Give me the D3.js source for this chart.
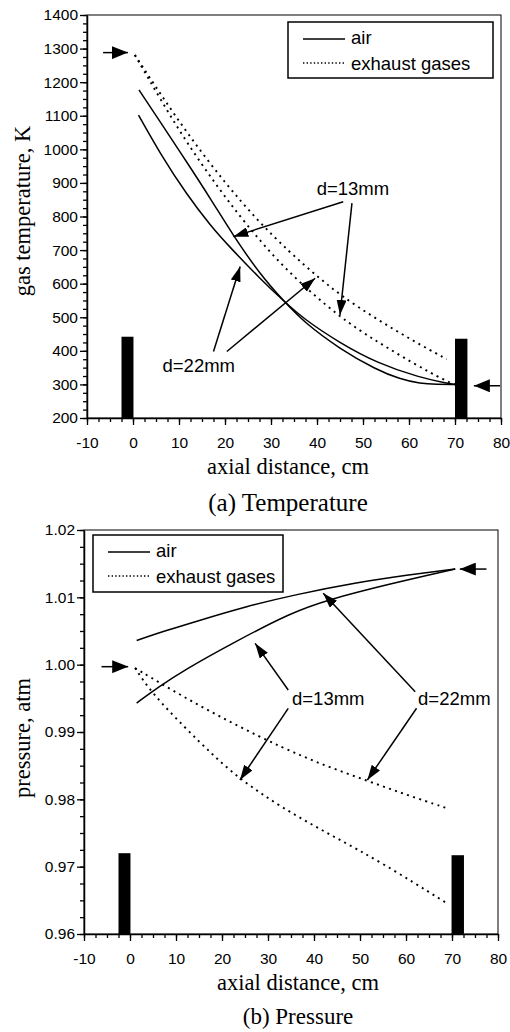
<!DOCTYPE html>
<html>
<head>
<meta charset="utf-8">
<script src="https://cdn.jsdelivr.net/npm/d3@7"></script>
<style>
  body { margin: 0; background: #fff; }
  .tick text { font-family: "Liberation Sans", Arial, sans-serif; font-size: 15.5px; fill: #000; }
  .sans { font-family: "Liberation Sans", Arial, sans-serif; font-size: 18.5px; }
  .serif { font-family: "Liberation Serif", "Times New Roman", serif; }
</style>
</head>
<body>
<svg id="fig" width="510" height="1032"></svg>
<script>
// axis ticks
const distTicks = [-10, 0, 10, 20, 30, 40, 50, 60, 70, 80];
const tempTicks = [200, 300, 400, 500, 600, 700, 800, 900, 1000, 1100, 1200, 1300, 1400];
const presTicks = [0.96, 0.97, 0.98, 0.99, 1.00, 1.01, 1.02];

// (a) temperature, K  vs axial distance, cm
const tempAir13 = [[1.3,1177],[6,1080],[11.7,962],[17,850],[21.7,745],[27.6,628],[32.8,548],[37,487],[45,405],[53,343],[58,316],[62.5,302],[66,300],[70,300]];
const tempAir22 = [[1.2,1102],[6,985],[11.7,865],[17,770],[21.1,708],[27.6,615],[32.8,548],[37,496],[45,423],[53,364],[62.4,320],[68.2,304],[70,300]];
const tempGas13 = [[0.4,1281],[6,1148],[11.3,1028],[18,895],[24.3,781],[33,642],[45,498],[53,428],[61,362],[68.2,309],[70,300]];
const tempGas22 = [[0.4,1281],[6,1164],[12.4,1036],[20,900],[27,789],[34.1,693],[39.6,627],[45,566],[53,494],[61,429],[68.2,375]];

// (b) pressure, atm
const presAir22 = [[1.45,1.0036],[8,1.0051],[15.2,1.0066],[25,1.0086],[35.9,1.0104],[49.3,1.0122],[60.2,1.0133],[70.7,1.0142]];
const presAir13 = [[1.45,0.9943],[6,0.9966],[12,0.9993],[22.8,1.0034],[35,1.0077],[42.8,1.0096],[56.5,1.0120],[70.7,1.0142]];
const presGas22 = [[1.1,0.9995],[11.6,0.9952],[22.5,0.9912],[33.3,0.9876],[42,0.9851],[51.4,0.9828],[60,0.9807],[68.8,0.9787]];
const presGas13 = [[1.1,0.9995],[4.7,0.9958],[12,0.9906],[18,0.9866],[23.5,0.9832],[33.3,0.9786],[44.2,0.9745],[55,0.9705],[68.8,0.9646]];

// walls (black bars) and inlet arrows
const tempWalls = [{from: -2.5, to: 0.1, top: 442}, {from: 70, to: 72.7, top: 436}];
const presWalls = [{from: -2.5, to: 0.1, top: 0.9720}, {from: 69.9, to: 72.6, top: 0.9717}];
const tempInlets = [{from: -6.5, to: -1.1, at: 1288}, {from: 79.8, to: 74.1, at: 296}];
const presInlets = [{from: -6.2, to: -0.4, at: 0.9997}, {from: 77.5, to: 71.7, at: 1.0142}];

// annotations: label position and arrows [x0, y0, x1, y1]
const tempNotes = [
  {text: "d=13mm", x: 47.8, y: 864, arrows: [[45.7, 844, 21.8, 740], [47.6, 840, 45, 507]]},
  {text: "d=22mm", x: 14.3, y: 338, arrows: [[17.5, 398, 23.3, 651], [20.4, 398, 39.6, 616]]}
];
const presNotes = [
  {text: "d=13mm", x: 43.1, y: 0.99401, arrows: [[34.4, 0.99624, 27.2, 1.00317], [34.4, 0.99352, 23.9, 0.98287]]},
  {text: "d=22mm", x: 70.5, y: 0.99401, arrows: [[62.0, 0.99598, 42.0, 1.0106], [62.3, 0.99352, 51.6, 0.98287]]}
];

const svg = d3.select("#fig");

const defs = svg.append("defs");
defs.append("marker").attr("id", "head")
    .attr("markerUnits", "userSpaceOnUse")
    .attr("markerWidth", 15).attr("markerHeight", 10)
    .attr("refX", 15).attr("refY", 5).attr("orient", "auto")
  .append("path").attr("d", "M0,0 L15,5 L0,10 Z").attr("fill", "#000");
defs.append("marker").attr("id", "bighead")
    .attr("markerUnits", "userSpaceOnUse")
    .attr("markerWidth", 16).attr("markerHeight", 13)
    .attr("refX", 16).attr("refY", 6.5).attr("orient", "auto")
  .append("path").attr("d", "M0,0 L16,6.5 L0,13 Z").attr("fill", "#000");

function drawPanel(o) {
  const x = d3.scaleLinear().domain([-10, 80]).range([o.left, o.right]);
  const y = d3.scaleLinear().domain(o.yDomain).range([o.bottom, o.top]);
  const g = svg.append("g");

  // frame
  g.append("rect")
    .attr("x", o.left).attr("y", o.top)
    .attr("width", o.right - o.left).attr("height", o.bottom - o.top)
    .attr("fill", "none").attr("stroke", "#000").attr("stroke-width", 1);

  // walls
  g.selectAll(".wall").data(o.walls).join("rect")
    .attr("x", d => x(d.from)).attr("width", d => x(d.to) - x(d.from))
    .attr("y", d => y(d.top)).attr("height", d => y(o.yDomain[0]) - y(d.top))
    .attr("fill", "#000");

  // axes
  const xMinor = d3.range(-10, 80.1, 2.5);
  g.append("g").attr("transform", `translate(0,${o.bottom})`)
    .call(d3.axisBottom(x).tickValues(xMinor).tickSize(4).tickFormat("").tickSizeOuter(0))
    .call(a => a.select(".domain").remove());
  g.append("g").attr("transform", `translate(0,${o.bottom})`)
    .call(d3.axisBottom(x).tickValues(distTicks).tickSize(7).tickPadding(12).tickFormat(d => String(d)).tickSizeOuter(0))
    .call(a => a.select(".domain").attr("stroke-width", 1.5));
  g.append("g").attr("transform", `translate(${o.left},0)`)
    .call(d3.axisLeft(y).tickValues(o.yMinor).tickSize(4).tickFormat("").tickSizeOuter(0))
    .call(a => a.select(".domain").remove());
  g.append("g").attr("transform", `translate(${o.left},0)`)
    .call(d3.axisLeft(y).tickValues(o.yTicks).tickSize(7).tickPadding(2).tickFormat(o.yFormat).tickSizeOuter(0))
    .call(a => a.select(".domain").attr("stroke-width", 1.5));
  g.selectAll(".tick line").attr("stroke-width", 1.3);

  // curves
  const line = d3.line().x(d => x(d[0])).y(d => y(d[1])).curve(d3.curveBasis);
  o.series.forEach(s => {
    g.append("path").datum(s.data)
      .attr("d", line).attr("fill", "none").attr("stroke", "#000")
      .attr("stroke-width", s.dotted ? 1.9 : 1.5)
      .attr("stroke-dasharray", s.dotted ? "2,4.4" : null);
  });

  // inlet arrows
  g.selectAll(".inlet").data(o.inlets).join("line")
    .attr("x1", d => x(d.from)).attr("x2", d => x(d.to))
    .attr("y1", d => y(d.at)).attr("y2", d => y(d.at))
    .attr("stroke", "#000").attr("stroke-width", 1.5)
    .attr("marker-end", "url(#bighead)");

  // annotations
  o.notes.forEach(n => {
    g.append("text").attr("class", "sans")
      .attr("x", x(n.x)).attr("y", y(n.y)).attr("text-anchor", "middle").text(n.text);
    g.selectAll(null).data(n.arrows).join("line")
      .attr("x1", d => x(d[0])).attr("y1", d => y(d[1]))
      .attr("x2", d => x(d[2])).attr("y2", d => y(d[3]))
      .attr("stroke", "#000").attr("stroke-width", 1.5)
      .attr("marker-end", "url(#head)");
  });

  // legend
  const L = o.legend;
  g.append("rect").attr("x", L.x).attr("y", L.y).attr("width", L.w).attr("height", L.h)
    .attr("fill", "#fff").attr("stroke", "#000").attr("stroke-width", 1.5);
  g.append("line").attr("x1", L.x + 15).attr("x2", L.x + 57).attr("y1", L.y + 17).attr("y2", L.y + 17)
    .attr("stroke", "#000").attr("stroke-width", 1.4);
  g.append("text").attr("class", "sans").attr("x", L.x + 63).attr("y", L.y + 22).text("air");
  g.append("line").attr("x1", L.x + 15).attr("x2", L.x + 57).attr("y1", L.y + 41).attr("y2", L.y + 41)
    .attr("stroke", "#000").attr("stroke-width", 1.3).attr("stroke-dasharray", "1.4,2.2");
  g.append("text").attr("class", "sans").attr("x", L.x + 63).attr("y", L.y + 48).text("exhaust gases");

  // titles
  g.append("text").attr("class", "serif").attr("font-size", 22.5)
    .attr("transform", `translate(30,${o.yTitleY}) rotate(-90)`)
    .attr("text-anchor", "middle").text(o.yTitle);
  g.append("text").attr("class", "serif").attr("font-size", 22.5)
    .attr("x", o.xTitleX).attr("y", o.bottom + 56).attr("text-anchor", "middle")
    .text("axial distance, cm");
  g.append("text").attr("class", "serif").attr("font-size", o.capSize)
    .attr("x", o.xTitleX).attr("y", o.capY).attr("text-anchor", "middle")
    .text(o.caption);
}

drawPanel({
  left: 87, right: 501, top: 15, bottom: 418,
  yDomain: [200, 1400], yTicks: tempTicks, yMinor: d3.range(200, 1400.1, 25),
  yFormat: d3.format("d"),
  series: [
    {data: tempAir13}, {data: tempAir22},
    {data: tempGas13, dotted: true}, {data: tempGas22, dotted: true}
  ],
  walls: tempWalls, inlets: tempInlets, notes: tempNotes,
  legend: {x: 288, y: 22, w: 205, h: 56},
  yTitle: "gas temperature, K", yTitleY: 211,
  xTitleX: 288, capY: 511, capSize: 25, caption: "(a) Temperature"
});

drawPanel({
  left: 84, right: 498, top: 530, bottom: 934,
  yDomain: [0.96, 1.02], yTicks: presTicks, yMinor: d3.range(0.96, 1.0201, 0.0025),
  yFormat: d3.format(".2f"),
  series: [
    {data: presAir13}, {data: presAir22},
    {data: presGas13, dotted: true}, {data: presGas22, dotted: true}
  ],
  walls: presWalls, inlets: presInlets, notes: presNotes,
  legend: {x: 93, y: 535, w: 190, h: 57},
  yTitle: "pressure, atm", yTitleY: 738,
  xTitleX: 298, capY: 1024, capSize: 23, caption: "(b) Pressure"
});
</script>
</body>
</html>
